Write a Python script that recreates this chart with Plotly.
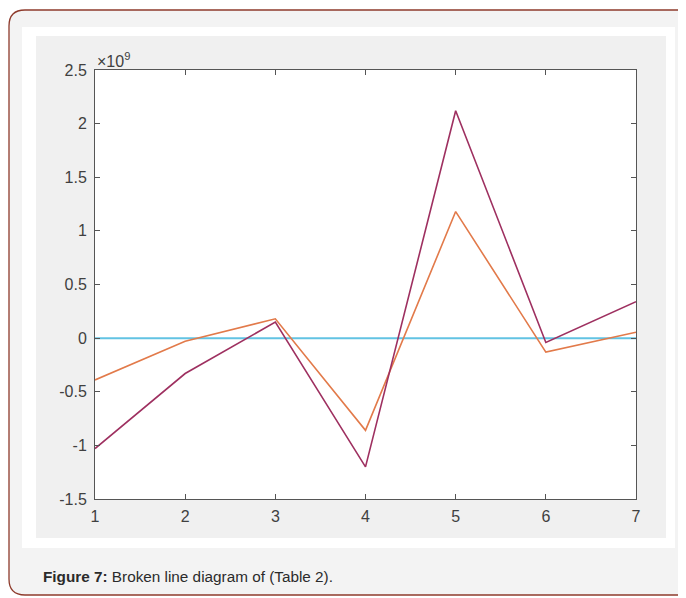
import plotly.graph_objects as go

OFF = 8  # browser body margin
W, H = 686 - OFF, 598 - OFF

x_vals = [1, 2, 3, 4, 5, 6, 7]
series_purple = [-1.03e9, -0.33e9, 0.15e9, -1.20e9, 2.12e9, -0.04e9, 0.34e9]
series_orange = [-0.39e9, -0.03e9, 0.18e9, -0.86e9, 1.18e9, -0.13e9, 0.055e9]
series_zero = [0, 0, 0, 0, 0, 0, 0]

y_tickvals = [-1.5e9, -1e9, -0.5e9, 0, 0.5e9, 1e9, 1.5e9, 2e9, 2.5e9]
y_ticktext = ["-1.5", "-1", "-0.5", "0", "0.5", "1", "1.5", "2", "2.5"]
x_ticktext = ["1", "2", "3", "4", "5", "6", "7"]
caption_bold = "Figure 7:"
caption_rest = " Broken line diagram of (Table 2)."

FONT = "Arial, Liberation Sans, sans-serif"


def px(x):
    return (x - OFF) / W


def py(y):
    return 1 - (y - OFF) / H


def rounded_path(x0, y0, x1, y1, r):
    pts = []
    pts.append(f"M {px(x0 + r)},{py(y0)}")
    pts.append(f"L {px(x1 - r)},{py(y0)}")
    pts.append(f"Q {px(x1)},{py(y0)} {px(x1)},{py(y0 + r)}")
    pts.append(f"L {px(x1)},{py(y1 - r)}")
    pts.append(f"Q {px(x1)},{py(y1)} {px(x1 - r)},{py(y1)}")
    pts.append(f"L {px(x0 + r)},{py(y1)}")
    pts.append(f"Q {px(x0)},{py(y1)} {px(x0)},{py(y1 - r)}")
    pts.append(f"L {px(x0)},{py(y0 + r)}")
    pts.append(f"Q {px(x0)},{py(y0)} {px(x0 + r)},{py(y0)}")
    pts.append("Z")
    return " ".join(pts)


# plot area in window pixels
AX_L, AX_R, AX_T, AX_B = 95, 636, 70, 499

fig = go.Figure()
fig.add_trace(go.Scatter(x=x_vals, y=series_zero, mode="lines",
                         line=dict(color="#62C3E3", width=2), showlegend=False))
fig.add_trace(go.Scatter(x=x_vals, y=series_orange, mode="lines",
                         line=dict(color="#E27A4A", width=1.6), showlegend=False))
fig.add_trace(go.Scatter(x=x_vals, y=series_purple, mode="lines",
                         line=dict(color="#9E3060", width=1.6), showlegend=False))

shapes = [
    dict(type="path", xref="paper", yref="paper", layer="below",
         path=rounded_path(9, 10, 700, 595, 16),
         fillcolor="#F3F3F3", line=dict(color="#8E3B2C", width=1.3)),
    dict(type="rect", xref="paper", yref="paper", layer="below",
         x0=px(22), x1=px(675), y0=py(548), y1=py(27),
         fillcolor="#FFFFFF", line=dict(width=0)),
    dict(type="rect", xref="paper", yref="paper", layer="below",
         x0=px(36), x1=px(666), y0=py(538), y1=py(36),
         fillcolor="#F0F0F0", line=dict(width=0)),
    dict(type="rect", xref="paper", yref="paper", layer="below",
         x0=px(AX_L), x1=px(AX_R), y0=py(AX_B), y1=py(AX_T),
         fillcolor="#FFFFFF", line=dict(width=0)),
]

axis_common = dict(
    showgrid=False, zeroline=False, showline=True, linecolor="#555555",
    linewidth=1, mirror="ticks", ticks="inside", ticklen=5, tickwidth=1,
    tickcolor="#555555", automargin=False,
    tickfont=dict(family=FONT, size=16, color="#404040"),
)

fig.update_layout(
    template="none",
    width=W, height=H,
    margin=dict(l=0, r=0, t=0, b=0, pad=0, autoexpand=False),
    paper_bgcolor="#FFFFFF",
    plot_bgcolor="#FFFFFF",
    shapes=shapes,
    xaxis=dict(domain=[px(AX_L), px(AX_R)], range=[1, 7],
               tickvals=x_vals, ticktext=x_ticktext, ticklabelstandoff=3, **axis_common),
    yaxis=dict(domain=[py(AX_B), py(AX_T)], range=[-1.5e9, 2.5e9],
               tickvals=y_tickvals, ticktext=y_ticktext, ticklabelstandoff=4, **axis_common),
    annotations=[
        dict(xref="paper", yref="paper", x=px(95), y=py(72), xanchor="left", yanchor="bottom",
             text="\u00d710<sup>9</sup>", showarrow=False,
             font=dict(family=FONT, size=16, color="#404040")),
        dict(xref="paper", yref="paper", x=px(41), y=py(576), xanchor="left", yanchor="middle",
             text=f"<b>{caption_bold}</b>{caption_rest}", showarrow=False,
             font=dict(family=FONT, size=15.3, color="#2B2B2B")),
    ],
)

fig.write_html("out.html")
